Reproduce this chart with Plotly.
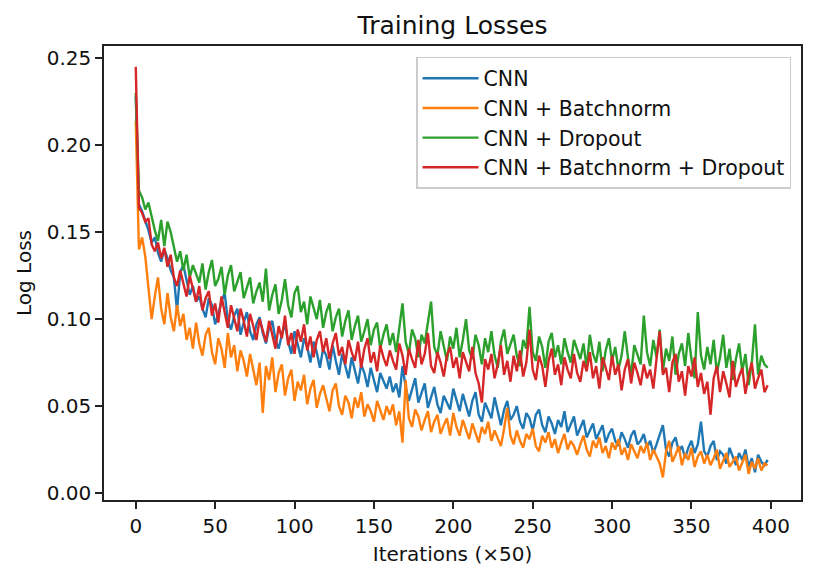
import plotly.graph_objects as go

# logged every 2 iterations (x axis is iterations / 50)
iterations = list(range(0, 400, 2))

cnn = [
    0.228, 0.166, 0.162, 0.157, 0.151, 0.144, 0.147, 0.138, 0.133, 0.140, 0.135, 0.128, 0.124, 0.105, 0.127, 0.131, 0.122, 0.114, 0.119, 0.110,
    0.113, 0.106, 0.101, 0.112, 0.108, 0.097, 0.103, 0.110, 0.115, 0.099, 0.094, 0.102, 0.106, 0.091, 0.098, 0.104, 0.093, 0.088, 0.097, 0.101,
    0.092, 0.086, 0.095, 0.099, 0.088, 0.083, 0.091, 0.097, 0.087, 0.080, 0.093, 0.085, 0.078, 0.089, 0.084, 0.075, 0.087, 0.081, 0.072, 0.083,
    0.079, 0.071, 0.085, 0.076, 0.068, 0.080, 0.073, 0.066, 0.078, 0.070, 0.063, 0.074, 0.069, 0.061, 0.072, 0.065, 0.058, 0.069, 0.064, 0.060,
    0.067, 0.058, 0.063, 0.055, 0.073, 0.061, 0.053, 0.060, 0.066, 0.052, 0.057, 0.063, 0.049, 0.055, 0.061, 0.051, 0.046, 0.056, 0.052, 0.048,
    0.060, 0.054, 0.047, 0.057, 0.050, 0.044, 0.053, 0.058, 0.045, 0.041, 0.052, 0.047, 0.043, 0.055, 0.046, 0.039, 0.048, 0.053, 0.042, 0.045,
    0.050, 0.041, 0.037, 0.046, 0.043, 0.036, 0.045, 0.048, 0.039, 0.035, 0.044, 0.040, 0.034, 0.042, 0.038, 0.047, 0.035, 0.040, 0.044, 0.033,
    0.038, 0.042, 0.032, 0.036, 0.040, 0.031, 0.035, 0.039, 0.029, 0.034, 0.037, 0.030, 0.027, 0.035, 0.031, 0.026, 0.033, 0.036, 0.028, 0.030,
    0.034, 0.026, 0.030, 0.023, 0.028, 0.033, 0.039, 0.025, 0.021, 0.029, 0.032, 0.024, 0.027, 0.020, 0.026, 0.030, 0.023, 0.028, 0.041, 0.024,
    0.021, 0.027, 0.030, 0.019, 0.024, 0.022, 0.017, 0.026, 0.021, 0.016, 0.023, 0.019, 0.025, 0.015, 0.020, 0.012, 0.022, 0.018, 0.016, 0.019,
]

cnn_bn = [
    0.214, 0.140, 0.147, 0.136, 0.118, 0.100, 0.113, 0.124, 0.106, 0.097, 0.115, 0.101, 0.093, 0.108, 0.096, 0.103, 0.088, 0.095, 0.083, 0.098,
    0.086, 0.079, 0.091, 0.095, 0.081, 0.074, 0.089, 0.083, 0.072, 0.092, 0.078, 0.085, 0.070, 0.082, 0.076, 0.067, 0.080, 0.071, 0.062, 0.075,
    0.046, 0.073, 0.065, 0.078, 0.058, 0.069, 0.074, 0.056, 0.066, 0.071, 0.053, 0.064, 0.059, 0.068, 0.051, 0.060, 0.065, 0.049, 0.057, 0.062,
    0.054, 0.047, 0.059, 0.063, 0.050, 0.045, 0.056, 0.052, 0.043, 0.055, 0.049, 0.058, 0.044, 0.051, 0.047, 0.041, 0.053, 0.048, 0.042, 0.050,
    0.045, 0.051, 0.039, 0.047, 0.029, 0.065, 0.043, 0.038, 0.048, 0.044, 0.036, 0.042, 0.047, 0.035, 0.041, 0.045, 0.034, 0.039, 0.043, 0.033,
    0.046, 0.038, 0.033, 0.042, 0.037, 0.031, 0.040, 0.035, 0.029, 0.038, 0.034, 0.041, 0.030, 0.036, 0.032, 0.027, 0.037, 0.049, 0.033, 0.028,
    0.036, 0.030, 0.026, 0.034, 0.031, 0.037, 0.027, 0.024, 0.033, 0.029, 0.035, 0.026, 0.031, 0.023, 0.029, 0.034, 0.025, 0.030, 0.027, 0.022,
    0.028, 0.033, 0.025, 0.021, 0.030, 0.026, 0.032, 0.023, 0.027, 0.020, 0.029, 0.025, 0.031, 0.022, 0.026, 0.019, 0.028, 0.024, 0.020, 0.027,
    0.023, 0.029, 0.019, 0.025, 0.021, 0.017, 0.009, 0.024, 0.030, 0.018, 0.022, 0.027, 0.016, 0.023, 0.019, 0.026, 0.015, 0.021, 0.024, 0.017,
    0.022, 0.016, 0.020, 0.025, 0.014, 0.019, 0.023, 0.015, 0.018, 0.021, 0.013, 0.017, 0.022, 0.011, 0.018, 0.014, 0.020, 0.013, 0.017, 0.016,
]

cnn_do = [
    0.230, 0.174, 0.170, 0.163, 0.167, 0.158, 0.151, 0.145, 0.157, 0.142, 0.156, 0.150, 0.141, 0.133, 0.139, 0.128, 0.137, 0.124, 0.131, 0.126,
    0.121, 0.132, 0.117, 0.127, 0.134, 0.119, 0.123, 0.130, 0.114, 0.125, 0.131, 0.116, 0.121, 0.127, 0.112, 0.118, 0.124, 0.109, 0.116, 0.121,
    0.110, 0.129, 0.105, 0.114, 0.120, 0.103, 0.111, 0.123, 0.108, 0.101, 0.115, 0.119, 0.104, 0.110, 0.097, 0.113, 0.106, 0.100, 0.111, 0.095,
    0.104, 0.109, 0.093, 0.101, 0.106, 0.090, 0.099, 0.105, 0.088, 0.096, 0.102, 0.087, 0.093, 0.100, 0.085, 0.094, 0.098, 0.083, 0.091, 0.097,
    0.085, 0.092, 0.081, 0.096, 0.109, 0.087, 0.080, 0.094, 0.089, 0.078, 0.091, 0.086, 0.097, 0.110, 0.084, 0.079, 0.093, 0.085, 0.076, 0.090,
    0.083, 0.095, 0.078, 0.088, 0.100, 0.082, 0.077, 0.091, 0.085, 0.074, 0.089, 0.081, 0.093, 0.079, 0.072, 0.087, 0.094, 0.080, 0.086, 0.091,
    0.079, 0.073, 0.088, 0.083, 0.107, 0.081, 0.076, 0.090, 0.084, 0.072, 0.087, 0.092, 0.078, 0.085, 0.074, 0.089, 0.081, 0.075, 0.088, 0.083,
    0.077, 0.086, 0.072, 0.091, 0.080, 0.075, 0.087, 0.070, 0.082, 0.089, 0.076, 0.084, 0.071, 0.079, 0.093, 0.078, 0.068, 0.085, 0.080, 0.074,
    0.102, 0.081, 0.073, 0.088, 0.078, 0.094, 0.070, 0.083, 0.076, 0.090, 0.068, 0.080, 0.086, 0.073, 0.092, 0.077, 0.066, 0.104, 0.079, 0.071,
    0.084, 0.074, 0.088, 0.069, 0.078, 0.091, 0.072, 0.083, 0.065, 0.077, 0.086, 0.070, 0.080, 0.062, 0.075, 0.097, 0.068, 0.079, 0.074, 0.072,
]

cnn_bn_do = [
    0.245, 0.164, 0.161, 0.156, 0.158, 0.143, 0.139, 0.144, 0.135, 0.141, 0.130, 0.137, 0.124, 0.119, 0.128, 0.121, 0.113, 0.125, 0.117, 0.110,
    0.119, 0.105, 0.112, 0.116, 0.102, 0.109, 0.098, 0.113, 0.104, 0.095, 0.108, 0.101, 0.093, 0.106, 0.099, 0.090, 0.103, 0.096, 0.088, 0.100,
    0.094, 0.087, 0.099, 0.091, 0.083, 0.096, 0.089, 0.102, 0.085, 0.092, 0.080, 0.094, 0.087, 0.097, 0.082, 0.090, 0.078, 0.088, 0.093, 0.081,
    0.089, 0.077, 0.086, 0.092, 0.079, 0.084, 0.074, 0.088, 0.081, 0.076, 0.087, 0.072, 0.083, 0.089, 0.075, 0.081, 0.070, 0.085, 0.078, 0.073,
    0.082, 0.076, 0.071, 0.086, 0.079, 0.068, 0.083, 0.077, 0.072, 0.088, 0.074, 0.080, 0.092, 0.073, 0.069, 0.081, 0.075, 0.067, 0.079, 0.084,
    0.072, 0.078, 0.066, 0.081, 0.075, 0.070, 0.084, 0.069, 0.063, 0.052, 0.077, 0.071, 0.080, 0.066, 0.074, 0.085, 0.068, 0.076, 0.064, 0.079,
    0.070, 0.082, 0.067, 0.075, 0.094, 0.071, 0.065, 0.079, 0.073, 0.061, 0.076, 0.083, 0.068, 0.074, 0.062, 0.078, 0.071, 0.066, 0.080, 0.069,
    0.064, 0.076, 0.070, 0.081, 0.066, 0.073, 0.060, 0.078, 0.072, 0.065, 0.079, 0.068, 0.074, 0.059, 0.071, 0.077, 0.063, 0.075, 0.069, 0.062,
    0.074, 0.066, 0.071, 0.060, 0.077, 0.093, 0.068, 0.072, 0.058, 0.075, 0.080, 0.064, 0.070, 0.056, 0.073, 0.067, 0.078, 0.061, 0.069, 0.057,
    0.064, 0.045, 0.066, 0.073, 0.058, 0.070, 0.063, 0.055, 0.076, 0.061, 0.067, 0.072, 0.057, 0.068, 0.075, 0.060, 0.066, 0.071, 0.058, 0.062,
]

series_names = ["CNN", "CNN + Batchnorm", "CNN + Dropout", "CNN + Batchnorm + Dropout"]
series_values = [cnn, cnn_bn, cnn_do, cnn_bn_do]
colors = ["#1f77b4", "#ff7f0e", "#2ca02c", "#d62728"]

fig = go.Figure()
for name, vals, color in zip(series_names, series_values, colors):
    fig.add_trace(go.Scatter(x=iterations, y=vals, mode="lines", name=name,
                             line=dict(color=color, width=2.4)))

axis_style = dict(showline=True, linecolor="#222", linewidth=1.5, mirror=True,
                  ticks="outside", ticklen=7, tickwidth=1.5, tickcolor="#222", showgrid=False,
                  zeroline=False, tickfont=dict(size=20, color="#111"))

fig.update_layout(
    width=816, height=580,
    # page body adds ~8px offset, margins compensate for it
    margin=dict(l=96, r=23, t=38, b=88),
    paper_bgcolor="white", plot_bgcolor="white",
    font=dict(family="DejaVu Sans", color="#111"),
    title=dict(text="Training Losses", xref="paper", x=0.5, xanchor="center",
               y=0.971, yanchor="middle", font=dict(size=25)),
    legend=dict(x=0.9857, y=0.9758, xanchor="right", yanchor="top",
                bgcolor="white", bordercolor="#cccccc", borderwidth=1.5,
                font=dict(size=20.5), tracegroupgap=0, itemwidth=56),
)
fig.update_xaxes(axis_style, range=[-20, 419], tickvals=[0, 50, 100, 150, 200, 250, 300, 350, 400],
                 title=dict(text="Iterations (×50)", font=dict(size=20), standoff=10))
fig.update_yaxes(axis_style, range=[-0.004, 0.257], tickvals=[0, 0.05, 0.10, 0.15, 0.20, 0.25],
                 tickformat=".2f", title=dict(text="Log Loss", font=dict(size=20), standoff=10))

fig.write_html("out.html")
